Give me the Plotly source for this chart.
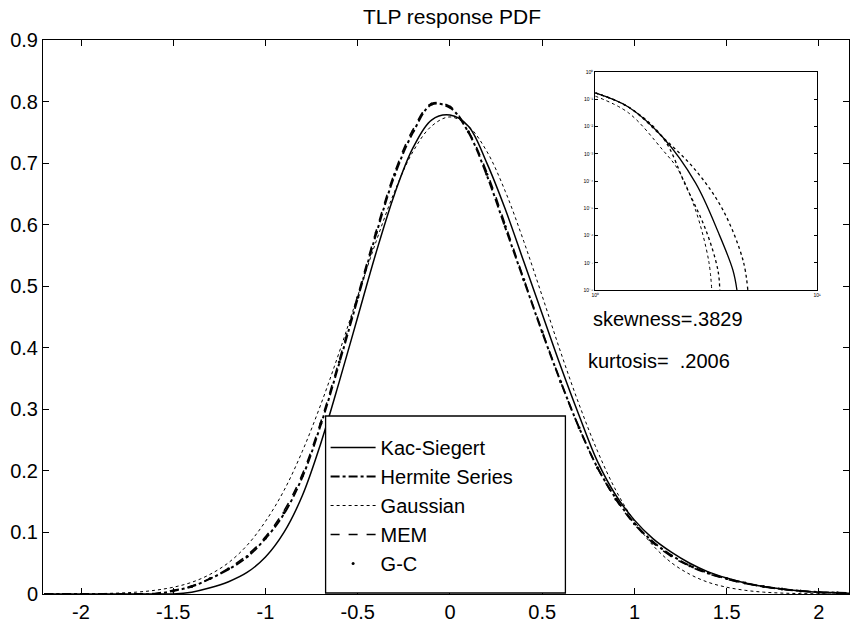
import plotly.graph_objects as go

# ---------------- data ----------------
x_grid = [-2.2, -2.1, -2.0, -1.9, -1.8, -1.7, -1.6, -1.5, -1.4, -1.3, -1.2, -1.1, -1.0,
          -0.9, -0.8, -0.7, -0.6, -0.5, -0.4, -0.3, -0.2, -0.1, 0.0, 0.1, 0.2, 0.3,
          0.4, 0.5, 0.6, 0.7, 0.8, 0.9, 1.0, 1.1, 1.2, 1.3, 1.4, 1.5, 1.6, 1.7, 1.8,
          1.9, 2.0, 2.1, 2.2]

kac_siegert = [0, 0, 0, 0, 0, 0, 0, 0.0, 0.003, 0.01, 0.02, 0.035, 0.06,
               0.10, 0.16, 0.245, 0.345, 0.45, 0.555, 0.65, 0.725, 0.77, 0.778, 0.76, 0.70, 0.625,
               0.54, 0.455, 0.37, 0.29, 0.215, 0.16, 0.12, 0.09, 0.068, 0.05, 0.036, 0.026, 0.018, 0.012, 0.008,
               0.005, 0.003, 0.002, 0.001]

hermite = [0, 0, 0, 0, 0, 0, 0.0, 0.005, 0.012, 0.025, 0.04, 0.06, 0.09,
           0.13, 0.19, 0.275, 0.375, 0.48, 0.585, 0.68, 0.75, 0.795, 0.79, 0.75, 0.68, 0.595,
           0.51, 0.425, 0.345, 0.27, 0.205, 0.155, 0.115, 0.085, 0.063, 0.046, 0.034, 0.025, 0.018, 0.012, 0.008,
           0.005, 0.003, 0.002, 0.001]

gaussian = [0.0, 0.0, 0.0003, 0.0007, 0.0015, 0.003, 0.006, 0.011, 0.019, 0.032, 0.051, 0.079, 0.118,
            0.168, 0.232, 0.308, 0.393, 0.484, 0.573, 0.654, 0.719, 0.760, 0.775, 0.760, 0.719, 0.654,
            0.573, 0.484, 0.393, 0.308, 0.232, 0.168, 0.118, 0.079, 0.051, 0.032, 0.019, 0.011, 0.006, 0.003, 0.0015,
            0.0007, 0.0003, 0.0, 0.0]

mem = [0, 0, 0, 0, 0, 0, 0.001, 0.006, 0.013, 0.025, 0.042, 0.063, 0.093,
       0.135, 0.195, 0.28, 0.38, 0.485, 0.59, 0.685, 0.755, 0.797, 0.792, 0.752, 0.685, 0.60,
       0.512, 0.427, 0.345, 0.27, 0.205, 0.153, 0.113, 0.083, 0.061, 0.045, 0.033, 0.024, 0.017, 0.012, 0.008,
       0.005, 0.003, 0.002, 0.001]

gc_x = [-1.5, -1.4, -1.3, -1.2, -1.1, -1.0, -0.9, -0.8, -0.7, -0.6, -0.5, -0.4, -0.3, -0.2, -0.1,
        0.0, 0.1, 0.2, 0.3, 0.4, 0.5, 0.6, 0.7, 0.8, 0.9, 1.0, 1.1, 1.2, 1.3, 1.4, 1.5, 1.6, 1.7,
        1.8, 1.9, 2.0, 2.1]
gc_y = [0.005, 0.012, 0.025, 0.041, 0.061, 0.091, 0.132, 0.192, 0.277, 0.377, 0.482, 0.587, 0.682,
        0.752, 0.796, 0.791, 0.751, 0.682, 0.597, 0.511, 0.426, 0.345, 0.27, 0.205, 0.154, 0.114,
        0.084, 0.062, 0.046, 0.034, 0.025, 0.018, 0.012, 0.008, 0.005, 0.003, 0.002]

# inset: upper-tail probabilities on log-log axes
inset_ks_x = [1.0, 1.41, 2.01, 2.83, 3.60, 4.17, 4.35]
inset_ks_y = [0.17, 0.052, 4.1e-3, 8.5e-5, 1.2e-6, 5.4e-8, 1e-8]
inset_mem_x = [1.0, 1.41, 2.01, 2.83, 3.76, 4.63, 4.87]
inset_mem_y = [0.17, 0.052, 4.1e-3, 2.5e-4, 8.7e-6, 1.26e-7, 1e-8]
inset_gauss_x = [1.0, 1.41, 2.01, 2.37, 2.83, 3.24, 3.35]
inset_gauss_y = [0.13, 0.032, 1.4e-3, 2.5e-4, 8.7e-6, 1.26e-7, 1e-8]
inset_herm_x = [1.0, 1.41, 2.01, 2.55, 3.15, 3.57, 3.64]
inset_herm_y = [0.17, 0.052, 4.1e-3, 7e-5, 1.6e-6, 5.4e-8, 1e-8]

x_ticks = [-2, -1.5, -1, -0.5, 0, 0.5, 1, 1.5, 2]
x_tick_text = ["-2", "-1.5", "-1", "-0.5", "0", "0.5", "1", "1.5", "2"]
y_ticks = [0, 0.1, 0.2, 0.3, 0.4, 0.5, 0.6, 0.7, 0.8, 0.9]
y_tick_text = ["0", "0.1", "0.2", "0.3", "0.4", "0.5", "0.6", "0.7", "0.8", "0.9"]

title_text = "TLP response PDF"
skew_text = "skewness=.3829"
kurt_text = "kurtosis=  .2006"

# ---------------- figure ----------------
FONT = "Liberation Sans, Arial, sans-serif"
fig = go.Figure()

fig.add_trace(go.Scatter(x=x_grid, y=kac_siegert, mode="lines", name="Kac-Siegert",
                         line=dict(color="black", width=1.5, shape="spline"), legendgroup="a"))
fig.add_trace(go.Scatter(x=x_grid, y=hermite, mode="lines", name="Hermite Series",
                         line=dict(color="black", width=2, dash="dashdot", shape="spline"), legendgroup="b"))
fig.add_trace(go.Scatter(x=x_grid, y=gaussian, mode="lines", name="Gaussian",
                         line=dict(color="black", width=1, dash="dot", shape="spline"), legendgroup="c"))
fig.add_trace(go.Scatter(x=x_grid, y=mem, mode="lines", name="MEM",
                         line=dict(color="black", width=1.5, dash="dash", shape="spline"), legendgroup="d"))
fig.add_trace(go.Scatter(x=gc_x, y=gc_y, mode="markers", name="G-C",
                         marker=dict(color="black", size=3), legendgroup="e"))

# inset traces
fig.add_trace(go.Scatter(x=inset_ks_x, y=inset_ks_y, mode="lines", xaxis="x2", yaxis="y2",
                         line=dict(color="black", width=1.3, shape="spline"), showlegend=False))
fig.add_trace(go.Scatter(x=inset_mem_x, y=inset_mem_y, mode="lines", xaxis="x2", yaxis="y2",
                         line=dict(color="black", width=1.3, dash="dot", shape="spline"), showlegend=False))
fig.add_trace(go.Scatter(x=inset_gauss_x, y=inset_gauss_y, mode="lines", xaxis="x2", yaxis="y2",
                         line=dict(color="black", width=1, dash="dot", shape="spline"), showlegend=False))
fig.add_trace(go.Scatter(x=inset_herm_x, y=inset_herm_y, mode="lines", xaxis="x2", yaxis="y2",
                         line=dict(color="black", width=1.3, dash="dot", shape="spline"), showlegend=False))

W, H = 853, 623
L, R, T, B = 43, 0, 40, 29
pw, ph = W - L - R, H - T - B

def px_x(p):
    return (p - L) / pw

def px_y(p):
    return (H - B - p) / ph

fig.update_layout(
    width=W, height=H,
    margin=dict(l=L, r=R, t=T, b=B),
    paper_bgcolor="white", plot_bgcolor="white",
    font=dict(family=FONT, size=20, color="black"),
    title=dict(text=title_text, x=(452) / W, xanchor="center", y=1 - 17 / H, yanchor="middle",
               font=dict(family=FONT, size=21, color="black")),
    xaxis=dict(range=[-2.206, 2.163], tickvals=x_ticks, ticktext=x_tick_text,
               ticks="inside", ticklen=6, tickcolor="black", showline=True, linecolor="black",
               linewidth=1, mirror="ticks", showgrid=False, zeroline=False,
               tickfont=dict(family=FONT, size=20)),
    yaxis=dict(range=[0, 0.9], tickvals=y_ticks, ticktext=y_tick_text,
               ticks="inside", ticklen=6, tickcolor="black", showline=True, linecolor="black",
               linewidth=1, mirror="ticks", showgrid=False, zeroline=False,
               tickfont=dict(family=FONT, size=20)),
    xaxis2=dict(type="log", domain=[px_x(598), px_x(821)], range=[0, 1], anchor="y2",
                showline=True, linecolor="black", mirror="ticks", ticks="inside", ticklen=3,
                tickcolor="black", showgrid=False, zeroline=False,
                tickvals=[1, 10], ticktext=["10⁰", "10¹"], tickfont=dict(size=5)),
    yaxis2=dict(type="log", domain=[px_y(290), px_y(72)], range=[-8, 0], anchor="x2",
                showline=True, linecolor="black", mirror="ticks", ticks="inside", ticklen=3,
                tickcolor="black", showgrid=False, zeroline=False,
                tickvals=[1e-8, 1e-7, 1e-6, 1e-5, 1e-4, 1e-3, 1e-2, 1e-1, 1],
                ticktext=["10⁻⁸", "10⁻⁷", "10⁻⁶", "10⁻⁵", "10⁻⁴", "10⁻³", "10⁻²", "10⁻¹", "10⁰"],
                tickfont=dict(size=5)),
    legend=dict(x=px_x(327), y=px_y(428), xanchor="left", yanchor="top",
                borderwidth=0, bgcolor="rgba(0,0,0,0)",
                font=dict(family=FONT, size=20), tracegroupgap=0,
                itemwidth=45),
    showlegend=True,
    shapes=[dict(type="rect", xref="paper", yref="paper",
                 x0=px_x(327), x1=px_x(568), y0=px_y(593), y1=px_y(416),
                 line=dict(color="black", width=1.3), fillcolor="white", layer="above")],
    annotations=[
        dict(text=skew_text, xref="paper", yref="paper", x=px_x(594), y=px_y(319),
             xanchor="left", yanchor="middle", showarrow=False, font=dict(family=FONT, size=20)),
        dict(text=kurt_text, xref="paper", yref="paper", x=px_x(589), y=px_y(361),
             xanchor="left", yanchor="middle", showarrow=False, font=dict(family=FONT, size=20)),
    ],
)

fig.write_html("out.html")
